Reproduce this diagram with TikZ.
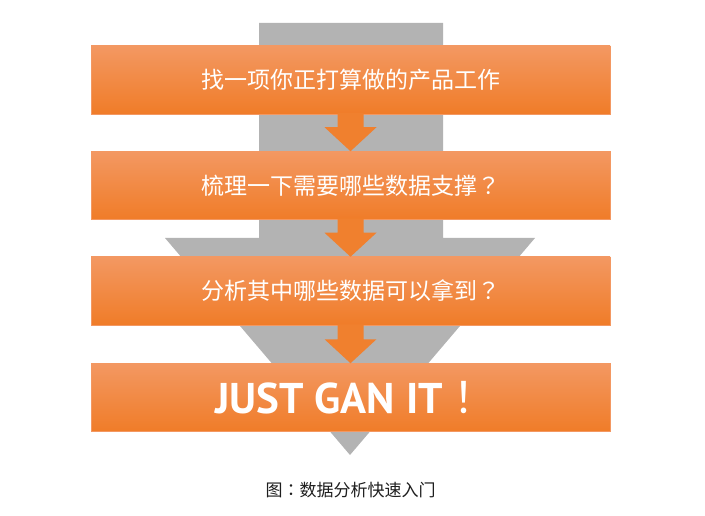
\documentclass[tikz,border=0pt]{standalone}
\usepackage{fontspec}
\newfontfamily\cjk{Noto Sans CJK SC}
\newfontfamily\cjkp{Noto Sans CJK TC}
\newfontfamily\latinb{PT Sans}
\usetikzlibrary{calc}
\definecolor{ogtop}{RGB}{243,152,98}
\definecolor{ogbot}{RGB}{240,124,40}
\definecolor{ogarrow}{RGB}{240,128,46}
\definecolor{grayarrow}{RGB}{179,179,179}
\definecolor{captext}{RGB}{30,30,30}
\begin{document}
\begin{tikzpicture}[x=1pt,y=-1pt,
  stepbox/.style={rectangle, minimum width=519pt, minimum height=68pt, inner sep=0pt,
    top color=ogtop, bottom color=ogbot, draw=ogtop, line width=0.5pt,
    text=white, font=\cjk\fontsize{23}{23}\selectfont},
  flowarrow/.style={fill=ogarrow},
  bigarrow/.style={fill=grayarrow},
  caption/.style={text=captext, font=\cjk\fontsize{17}{17}\selectfont}]
\useasboundingbox (0,0) rectangle (705,516);
% big gray background arrow
\fill[bigarrow] (259,23) -- (443,23) -- (443,238) -- (535,238) -- (350,455) -- (165,238) -- (259,238) -- cycle;
% boxes
\node[stepbox] (b1) at (350.5,80) {找一项你正打算做的产品工作};
\node[stepbox] (b2) at (350.5,185.5) {梳理一下需要哪些数据支撑{\cjkp ？}};
\node[stepbox] (b3) at (350.5,291) {分析其中哪些数据可以拿到{\cjkp ？}};
\node[stepbox, font=\latinb\bfseries\fontsize{43}{43}\selectfont] (b4) at (350.5,397.5) {JUST GAN IT{\cjkp\mdseries ！}};
% orange arrows between boxes
\foreach \a/\b in {b1/b2,b2/b3,b3/b4}{
  \fill[flowarrow] ($(\a.south)+(-13,-1)$) -- ($(\a.south)+(13,-1)$) -- ($(\b.north)+(13,-24)$)
    -- ($(\b.north)+(26,-24)$) -- (\b.north) -- ($(\b.north)+(-26,-24)$) -- ($(\b.north)+(-13,-24)$) -- cycle;
}
\node[caption] (cap) at (350.5,490) {图{\cjkp ：}数据分析快速入门};
\end{tikzpicture}
\end{document}
